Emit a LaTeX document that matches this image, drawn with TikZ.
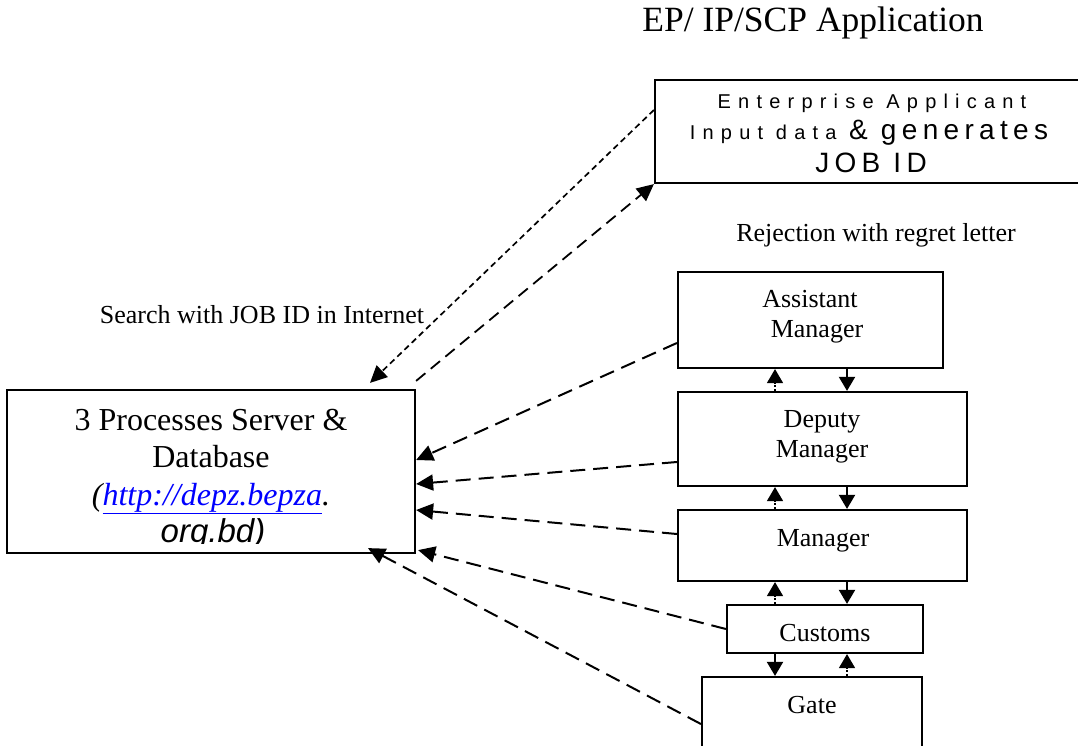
\documentclass[tikz,border=0pt]{standalone}
\usepackage{fontspec}
\setmainfont{Liberation Serif}
\newfontfamily\arialsmall[LetterSpace=36]{Liberation Sans}
\newfontfamily\arialbig[LetterSpace=19]{Liberation Sans}
\newfontfamily\arialplain{Liberation Sans}
\usetikzlibrary{arrows.meta}
\definecolor{linkblue}{RGB}{0,0,255}
\tikzset{
  box/.style={draw, line width=2.2pt, inner sep=0pt},
  txt/.style={anchor=base, inner sep=0pt, font=\fontsize{26}{30}\selectfont},
  tip/.style={-{Triangle[length=17pt,width=16pt]}},
  feed/.style={tip, line width=2pt, dash pattern=on 15pt off 8pt},
  shortdash/.style={tip, line width=1.7pt, dash pattern=on 6pt off 4pt},
  longdash/.style={tip, line width=1.8pt, dash pattern=on 12pt off 7pt},
  vdown/.style={-{Triangle[length=14pt,width=16pt]}, line width=2pt},
  vup/.style={-{Triangle[length=14pt,width=16pt]}, line width=1.5pt, dash pattern=on 2pt off 2pt},
}
\begin{document}
\begin{tikzpicture}[x=1pt,y=-1pt]
\clip (0,0) rectangle (1078,746);
\fill[white] (0,0) rectangle (1078,746);

% title
\node[anchor=base, inner sep=0pt, font=\fontsize{35.5}{40}\selectfont] (title) at (813,32) {EP/ IP/SCP Application};

% enterprise box (runs off the right edge)
\node[box, minimum width=426, minimum height=103] (ent) at (868,131.5) {};
\node[anchor=base, inner sep=0pt] (ent1) at (872,109) {\fontsize{20}{24}\arialsmall Enterprise Applicant};
\node[anchor=base, inner sep=0pt] (ent2) at (869,140) {\fontsize{20}{24}\arialsmall Input data \fontsize{28}{32}\arialbig\&\ generates};
\node[anchor=base, inner sep=0pt] (ent3) at (871,172) {\fontsize{28}{32}\arialbig JOB ID};

% labels
\node[txt] (rej) at (876,241) {Rejection with regret letter};
\node[txt] (search) at (262,323) {Search with JOB ID in Internet};

% server box
\node[box, minimum width=408, minimum height=163] (srv) at (211,471.5) {};
\node[anchor=base, inner sep=0pt, font=\fontsize{32}{36}\selectfont] (srv1) at (211,430) {3 Processes Server \&};
\node[anchor=base, inner sep=0pt, font=\fontsize{32}{36}\selectfont] (srv2) at (211,467) {Database};
\node[anchor=base, inner sep=0pt, font=\fontsize{32}{36}\selectfont\itshape] (srv3) at (211,505) {(\textcolor{linkblue}{\underline{http://depz.bepza}}.};
\begin{scope}
\clip (9,392) rectangle (413,543);
\node[anchor=base, inner sep=0pt, font=\fontsize{33}{36}\arialplain\itshape] (srv4) at (213,542) {org.bd)};
\end{scope}

% staff boxes
\node[box, minimum width=265, minimum height=96] (am) at (810.5,320) {};
\node[txt] (am1) at (810,307) {Assistant};
\node[txt] (am2) at (817,337) {Manager};
\node[box, minimum width=289, minimum height=94] (dm) at (822.5,439) {};
\node[txt] (dm1) at (822,427) {Deputy};
\node[txt] (dm2) at (822,457) {Manager};
\node[box, minimum width=289, minimum height=71] (mg) at (822.5,545.5) {};
\node[txt] (mg1) at (823,546) {Manager};
\node[box, minimum width=196, minimum height=48] (cu) at (825,629) {};
\node[txt] (cu1) at (825,641) {Customs};
\node[box, minimum width=220, minimum height=90] (ga) at (812,722) {};
\node[txt] (ga1) at (812,713) {Gate};

% internet links
\draw[shortdash] (ent.west |- 0,110) -- ([xshift=159pt,yshift=6pt]srv.north);
\draw[longdash] ([yshift=8pt]srv.north east) -- (ent.south west);

% feedback to server
\draw[feed] (am.west |- 0,343) -- (srv.east |- 0,460);
\draw[feed] (dm.west |- 0,462) -- (srv.east |- 0,484);
\draw[feed] (mg.west |- 0,534) -- (srv.east |- 0,510);
\draw[feed] (cu.west |- 0,629) -- ([xshift=2pt,yshift=4pt]srv.south east);
\draw[feed] (ga.west |- 0,724) -- ([xshift=157pt,yshift=6pt]srv.south);

% vertical arrows
\draw[vdown] (am.south -| 847,0) -- (dm.north -| 847,0);
\draw[vup] (dm.north -| 775,0) -- (am.south -| 775,0);
\draw[vdown] (dm.south -| 847,0) -- (mg.north -| 847,0);
\draw[vup] (mg.north -| 775,0) -- (dm.south -| 775,0);
\draw[vdown] (mg.south -| 847,0) -- (cu.north -| 847,0);
\draw[vup] (cu.north -| 775,0) -- (mg.south -| 775,0);
\draw[vdown] (cu.south -| 775,0) -- (ga.north -| 775,0);
\draw[vup] (ga.north -| 847,0) -- (cu.south -| 847,0);
\end{tikzpicture}
\end{document}
